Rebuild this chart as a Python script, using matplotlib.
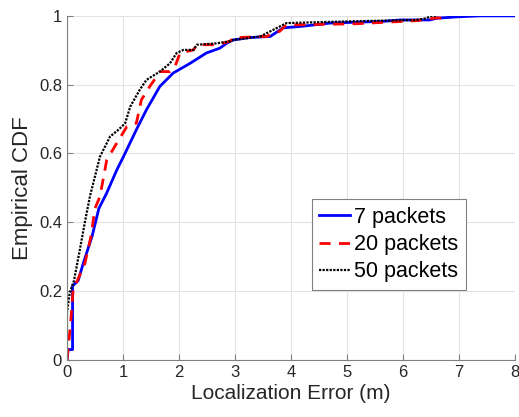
import matplotlib
matplotlib.use("Agg")
import matplotlib.pyplot as plt

plt.rcParams['font.family'] = ['Liberation Sans', 'DejaVu Sans']

# 7 packets (blue)
x7 = [0, 0.02, 0.1, 0.1, 0.2, 0.29, 0.45, 0.57, 0.71, 0.89, 1.01, 1.24, 1.42, 1.66, 1.90,
      2.20, 2.49, 2.73, 2.85, 2.97, 3.27, 3.63, 3.86, 4.22, 4.70, 5.65, 5.95, 6.48, 6.6, 6.96, 7.38, 8.0]
y7 = [0, 0.03, 0.03, 0.215, 0.23, 0.28, 0.36, 0.44, 0.485, 0.552, 0.591, 0.669, 0.727, 0.795, 0.834,
      0.862, 0.892, 0.906, 0.920, 0.930, 0.937, 0.94, 0.965, 0.97, 0.979, 0.984, 0.988, 0.988, 0.993, 0.997, 1.0, 1.0]

# 20 packets (red)
x20 = [0, 0.02, 0.07, 0.11, 0.32, 0.43, 0.5, 0.59, 0.71, 0.89, 1.07, 1.24, 1.33, 1.48, 1.60, 1.66,
       1.84, 1.93, 2.02, 2.26, 2.32, 2.67, 2.91, 2.97, 3.45, 3.57, 3.68, 3.80, 3.86, 3.92, 4.10, 5.17,
       6.24, 6.42, 6.60, 6.78]
y20 = [0, 0.03, 0.116, 0.203, 0.28, 0.36, 0.44, 0.475, 0.581, 0.63, 0.678, 0.688, 0.756, 0.795, 0.823, 0.838,
       0.838, 0.853, 0.892, 0.901, 0.916, 0.916, 0.926, 0.936, 0.94, 0.94, 0.95, 0.955, 0.965, 0.974, 0.974, 0.977,
       0.986, 0.99, 0.994, 0.993]

# 50 packets (black)
x50 = [0, 0, 0.05, 0.125, 0.23, 0.32, 0.41, 0.59, 0.77, 0.92, 1.04, 1.13, 1.30, 1.42, 1.66, 1.84,
       1.96, 2.08, 2.26, 2.32, 2.67, 2.91, 2.97, 3.45, 3.68, 3.86, 3.92, 5.05, 6.24, 6.42, 6.51, 6.62]
y50 = [0, 0.137, 0.195, 0.23, 0.32, 0.40, 0.475, 0.591, 0.649, 0.669, 0.688, 0.736, 0.785, 0.814, 0.838, 0.862,
       0.892, 0.901, 0.901, 0.916, 0.92, 0.926, 0.93, 0.94, 0.959, 0.974, 0.979, 0.984, 0.988, 0.993, 1.0, 1.0]

labels = ['7 packets', '20 packets', '50 packets']
xticks = list(range(0, 9))
yticks = [0, 0.2, 0.4, 0.6, 0.8, 1.0]
yticklabels = ['0', '0.2', '0.4', '0.6', '0.8', '1']

fig = plt.figure(figsize=(5.19, 4.17), dpi=100)
ax = fig.add_axes([0.129, 0.137, 0.863, 0.825])

ax.plot(x7, y7, color='#0000FF', lw=2.0, ls='-', label=labels[0])
ax.plot(x20, y20, color='#FF0000', lw=2.0, ls=(0, (4, 3)), label=labels[1])
ax.plot(x50, y50, color='black', lw=1.6, ls=(0, (1, 0.6)), label=labels[2])

ax.set_xlim(0, 8)
ax.set_ylim(0, 1)
ax.set_xticks(xticks)
ax.set_yticks(yticks)
ax.set_yticklabels(yticklabels)
ax.grid(True, color='#e3e3e3', lw=0.8)
ax.set_axisbelow(True)
for s in ['top', 'right']:
    ax.spines[s].set_visible(False)
for s in ['left', 'bottom']:
    ax.spines[s].set_color('#808080')
ax.tick_params(direction='in', length=4, color='#808080', labelcolor='#262626', labelsize=12)
ax.set_xlabel('Localization Error (m)', fontsize=15, color='#262626', labelpad=3)
ax.set_ylabel('Empirical CDF', fontsize=16, color='#262626', labelpad=4)

leg = ax.legend(loc='lower left', bbox_to_anchor=(0.547, 0.203), fontsize=15.5, fancybox=False,
                framealpha=1, edgecolor='#808080', handlelength=1.4, handletextpad=0.2,
                borderpad=0.35, labelspacing=0.3, borderaxespad=0)
leg.get_frame().set_linewidth(0.8)

fig.savefig('out.png', dpi=100)
